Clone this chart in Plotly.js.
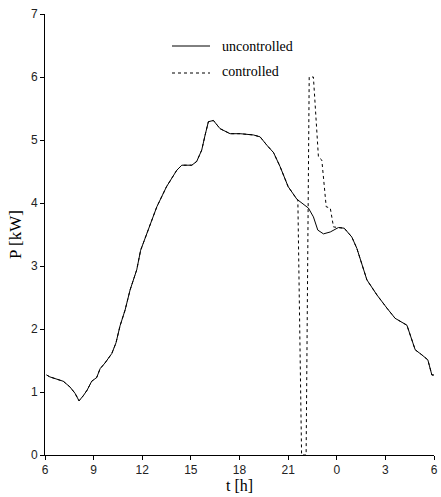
<!DOCTYPE html>
<html>
<head>
<meta charset="utf-8">
<script src="https://cdn.plot.ly/plotly-3.0.1.min.js"></script>
<style>html,body{margin:0;padding:0;background:#fff;}#chart{width:441px;height:497px;}</style>
</head>
<body>
<div id="chart"></div>
<script>
// Time in hours (6 = 06:00, 24 = 00:00 next day, 30 = 06:00 next day)
const tUncontrolled = [6.1, 6.3, 7.13, 7.54, 7.85, 8.1, 8.36, 8.6, 8.88, 9.19, 9.4, 9.7, 10.12, 10.38, 10.63, 10.94, 11.25, 11.66, 11.9,
  12.28, 12.9, 13.5, 14.13, 14.44, 15.06, 15.36, 15.67, 15.88, 16.08, 16.39, 16.8, 17.42, 18.04, 18.86, 19.27, 19.68, 20.1, 20.5,
  21.0, 21.54, 22.25, 22.56, 22.83, 23.18, 23.6, 24.1, 24.46, 24.93, 25.24, 25.86, 26.48, 27.1, 27.6, 28.33, 28.63, 28.84, 29.25,
  29.62, 29.87, 30.0];
const pUncontrolled = [1.27, 1.24, 1.17, 1.08, 0.98, 0.86, 0.94, 1.03, 1.17, 1.23, 1.37, 1.46, 1.61, 1.78, 2.05, 2.30, 2.62, 2.94, 3.25,
  3.52, 3.94, 4.26, 4.52, 4.60, 4.60, 4.66, 4.84, 5.08, 5.29, 5.31, 5.18, 5.10, 5.10, 5.08, 5.05, 4.92, 4.80, 4.58,
  4.26, 4.06, 3.92, 3.78, 3.57, 3.51, 3.54, 3.61, 3.60, 3.46, 3.28, 2.78, 2.54, 2.33, 2.17, 2.06, 1.83, 1.67, 1.59,
  1.51, 1.27, 1.27];

const tControlled = [6.1, 6.3, 7.13, 7.54, 7.85, 8.1, 8.36, 8.6, 8.88, 9.19, 9.4, 9.7, 10.12, 10.38, 10.63, 10.94, 11.25, 11.66, 11.9,
  12.28, 12.9, 13.5, 14.13, 14.44, 15.06, 15.36, 15.67, 15.88, 16.08, 16.39, 16.8, 17.42, 18.04, 18.86, 19.27, 19.68, 20.1, 20.5,
  21.0, 21.54, 21.6, 21.83, 22.11, 22.3, 22.56, 22.87, 23.08, 23.35, 23.6, 23.8, 24.1, 24.46, 24.93, 25.24, 25.86, 26.48, 27.1, 27.6,
  28.33, 28.63, 28.84, 29.25, 29.62, 29.87, 30.0];
const pControlled = [1.27, 1.24, 1.17, 1.08, 0.98, 0.86, 0.94, 1.03, 1.17, 1.23, 1.37, 1.46, 1.61, 1.78, 2.05, 2.30, 2.62, 2.94, 3.25,
  3.52, 3.94, 4.26, 4.52, 4.60, 4.60, 4.66, 4.84, 5.08, 5.29, 5.31, 5.18, 5.10, 5.10, 5.08, 5.05, 4.92, 4.80, 4.58,
  4.26, 4.06, 4.05, 0.0, 0.0, 6.0, 6.0, 4.73, 4.68, 3.94, 3.92, 3.62, 3.61, 3.60, 3.46, 3.28, 2.78, 2.54, 2.33, 2.17,
  2.06, 1.83, 1.67, 1.59, 1.51, 1.27, 1.27];

const seriesNames = ['uncontrolled', 'controlled'];
const xTickVals = [6, 9, 12, 15, 18, 21, 24, 27, 30];
const xTickText = ['6', '9', '12', '15', '18', '21', '0', '3', '6'];
const yTickVals = [0, 1, 2, 3, 4, 5, 6, 7];

const traces = [
  {x: tControlled, y: pControlled, mode: 'lines', name: seriesNames[1],
   line: {color: '#000', width: 1, dash: 'dot'}, showlegend: false},
  {x: tUncontrolled, y: pUncontrolled, mode: 'lines', name: seriesNames[0],
   line: {color: '#000', width: 1}, showlegend: false}
];

const serif = 'Liberation Serif, Times New Roman, serif';
const sans = 'Liberation Sans, Arial, sans-serif';

const layout = {
  width: 441, height: 497,
  margin: {l: 45, r: 7, t: 14, b: 42},
  paper_bgcolor: '#fff', plot_bgcolor: '#fff',
  showlegend: false,
  xaxis: {
    range: [6, 30], tickvals: xTickVals, ticktext: xTickText,
    showgrid: false, zeroline: false, showline: true, linecolor: '#000', linewidth: 1,
    ticks: 'outside', ticklen: 4, tickcolor: '#000',
    tickfont: {family: sans, size: 12, color: '#222'},
    title: {text: 't [h]', font: {family: serif, size: 16, color: '#000'}, standoff: 0}
  },
  yaxis: {
    range: [0, 7], tickvals: yTickVals,
    showgrid: false, zeroline: false, showline: true, linecolor: '#000', linewidth: 1,
    ticks: 'outside', ticklen: 4, tickcolor: '#000',
    tickfont: {family: sans, size: 12, color: '#222'},
    title: {text: 'P [kW]', font: {family: serif, size: 17, color: '#000'}, standoff: 4}
  },
  shapes: [
    {type: 'line', xref: 'paper', yref: 'paper', x0: (172-45)/389, x1: (210-45)/389, y0: (455-46)/441, y1: (455-46)/441,
     line: {color: '#000', width: 1}},
    {type: 'line', xref: 'paper', yref: 'paper', x0: (172-45)/389, x1: (210-45)/389, y0: (455-73)/441, y1: (455-73)/441,
     line: {color: '#000', width: 1.2, dash: 'dot'}}
  ],
  annotations: [
    {text: seriesNames[0], xref: 'paper', yref: 'paper', x: (220-45)/389, y: (455-46)/441, xanchor: 'left', yanchor: 'middle',
     showarrow: false, font: {family: serif, size: 14, color: '#000'}},
    {text: seriesNames[1], xref: 'paper', yref: 'paper', x: (220-45)/389, y: (455-71)/441, xanchor: 'left', yanchor: 'middle',
     showarrow: false, font: {family: serif, size: 14, color: '#000'}}
  ]
};

Plotly.newPlot('chart', traces, layout, {displayModeBar: false, staticPlot: true});
</script>
</body>
</html>
